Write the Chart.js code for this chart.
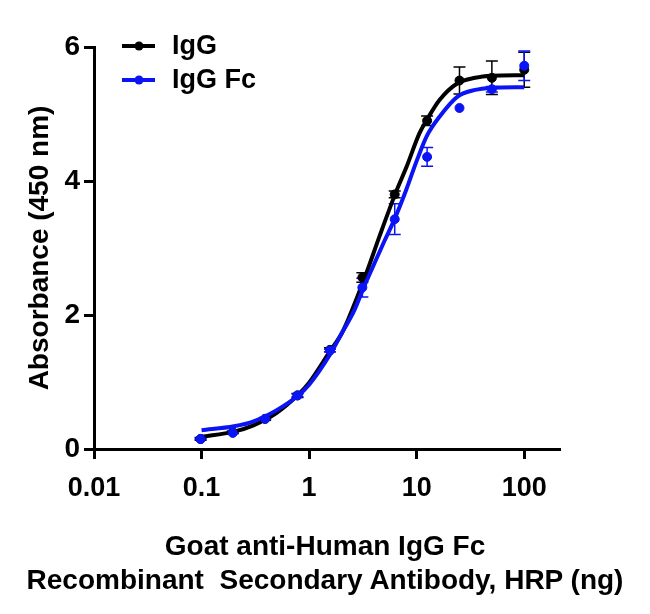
<!DOCTYPE html>
<html lang="en">
<head>
  <meta charset="UTF-8">
  <title>Goat anti-Human IgG Fc ELISA</title>
  <script src="https://cdn.jsdelivr.net/npm/chart.js"></script>
  <style>
    * { margin: 0; padding: 0; box-sizing: border-box; }
    body { background: #fff; width: 650px; height: 614px; overflow: hidden; }
    .wrap { position: relative; width: 650px; height: 614px; }
    .xcaption {
      position: absolute;
      left: 0; top: 529px; width: 650px;
      text-align: center;
      font-family: 'Liberation Sans', Arial, sans-serif;
      font-weight: bold;
      font-size: 28px;
      line-height: 34px;
      color: #000;
      white-space: pre;
    }
  </style>
</head>
<body>
  <div class="wrap">
    <canvas id="elisa" width="650" height="614"></canvas>
    <div class="xcaption">Goat anti-Human IgG Fc
Recombinant  Secondary Antibody, HRP (ng)</div>
  </div>

<script>
  // antibody amount (ng), two-fold dilutions
  const conc = [0.098, 0.195, 0.39, 0.78, 1.5625, 3.125, 6.25, 12.5, 25, 50, 100];

  // IgG (black) means and error bars
  const iggMean = [0.15, 0.25, 0.45, 0.80, 1.48, 2.56, 3.80, 4.90, 5.50, 5.54, 5.66];
  const iggSd   = [0.02, 0.02, 0.02, 0.03, 0.03, 0.07, 0.05, 0.07, 0.20, 0.25, 0.26];

  // IgG Fc (blue) means and error bars
  const fcMean = [0.15, 0.24, 0.45, 0.80, 1.47, 2.41, 3.43, 4.36, 5.09, 5.37, 5.72];
  const fcSd   = [0.01, 0.01, 0.01, 0.02, 0.02, 0.14, 0.23, 0.14, 0.00, 0.04, 0.22];

  // fitted curves
  const iggFitX = [0.1, 0.2, 0.3, 0.5, 0.78, 1, 1.55, 2, 2.3, 3.4, 4.5, 6.4, 8, 10.6, 12.5, 16.3, 24, 35, 50, 100];
  const iggFitY = [0.18, 0.26, 0.35, 0.54, 0.80, 0.99, 1.45, 1.72, 1.93, 2.62, 3.17, 3.83, 4.20, 4.71, 4.92, 5.21, 5.46, 5.54, 5.57, 5.58];
  const fcFitX = [0.1, 0.2, 0.3, 0.5, 0.78, 1, 1.55, 2, 2.65, 3.2, 3.92, 5, 6.3, 8, 10, 12.5, 16.3, 24, 35, 50, 100];
  const fcFitY = [0.28, 0.34, 0.41, 0.58, 0.79, 0.96, 1.40, 1.72, 2.08, 2.40, 2.72, 3.10, 3.45, 3.87, 4.30, 4.68, 4.96, 5.26, 5.36, 5.39, 5.40];

  const xTicks = [0.01, 0.1, 1, 10, 100];
  const yTicks = [0, 2, 4, 6];

  const BLUE = '#0a14f5';
  const BLACK = '#000000';

  Chart.defaults.font.family = "'Liberation Sans', Arial, sans-serif";
  Chart.defaults.font.weight = 'bold';
  Chart.defaults.color = '#000';

  const toPts = (xs, ys) => xs.map((x, i) => ({ x: x, y: ys[i] }));

  const errorBars = {
    id: 'errorBars',
    beforeDatasetsDraw(chart) {
      const { ctx, scales: { x, y } } = chart;
      const sets = [
        { mean: iggMean, sd: iggSd, color: BLACK },
        { mean: fcMean, sd: fcSd, color: BLUE }
      ];
      ctx.save();
      ctx.lineWidth = 1.5;
      sets.forEach(s => {
        ctx.strokeStyle = s.color;
        conc.forEach((c, i) => {
          if (!s.sd[i]) return;
          const px = x.getPixelForValue(c);
          const top = y.getPixelForValue(s.mean[i] + s.sd[i]);
          const bot = y.getPixelForValue(s.mean[i] - s.sd[i]);
          ctx.beginPath();
          ctx.moveTo(px, top); ctx.lineTo(px, bot);
          ctx.moveTo(px - 6, top); ctx.lineTo(px + 6, top);
          ctx.moveTo(px - 6, bot); ctx.lineTo(px + 6, bot);
          ctx.stroke();
        });
      });
      ctx.restore();
    }
  };

  const legendBox = {
    id: 'legendBox',
    afterDraw(chart) {
      const ctx = chart.ctx;
      const rows = [
        { label: 'IgG', color: BLACK, y: 46 },
        { label: 'IgG Fc', color: BLUE, y: 80 }
      ];
      ctx.save();
      rows.forEach(r => {
        ctx.strokeStyle = r.color;
        ctx.fillStyle = r.color;
        ctx.lineWidth = 4;
        ctx.beginPath();
        ctx.moveTo(122, r.y); ctx.lineTo(155, r.y);
        ctx.stroke();
        ctx.beginPath();
        ctx.arc(139, r.y, 4.5, 0, Math.PI * 2);
        ctx.fill();
        ctx.fillStyle = '#000';
        ctx.font = "bold 27px 'Liberation Sans', Arial, sans-serif";
        ctx.textBaseline = 'middle';
        ctx.fillText(r.label, 172, r.y + 1);
      });
      ctx.restore();
    }
  };

  new Chart(document.getElementById('elisa'), {
    type: 'scatter',
    data: {
      datasets: [
        {
          label: 'IgG Fc',
          data: toPts(conc, fcMean),
          backgroundColor: BLUE, borderColor: BLUE,
          pointRadius: 4.5, showLine: false, order: 0
        },
        {
          label: 'IgG Fc fit',
          data: toPts(fcFitX, fcFitY),
          borderColor: BLUE, borderWidth: 4,
          pointRadius: 0, showLine: true, cubicInterpolationMode: 'monotone', order: 1
        },
        {
          label: 'IgG',
          data: toPts(conc, iggMean),
          backgroundColor: BLACK, borderColor: BLACK,
          pointRadius: 4.5, showLine: false, order: 2
        },
        {
          label: 'IgG fit',
          data: toPts(iggFitX, iggFitY),
          borderColor: BLACK, borderWidth: 4,
          pointRadius: 0, showLine: true, cubicInterpolationMode: 'monotone', order: 3
        }
      ]
    },
    options: {
      responsive: false,
      animation: false,
      devicePixelRatio: 1,
      layout: { padding: { top: 47, right: 90, bottom: 0, left: 0 } },
      plugins: {
        legend: { display: false },
        tooltip: { enabled: false }
      },
      scales: {
        x: {
          type: 'logarithmic',
          min: 0.01,
          max: 215,
          afterBuildTicks: s => { s.ticks = xTicks.map(v => ({ value: v })); },
          afterFit: s => { s.height = 165; },
          ticks: {
            autoSkip: false, maxRotation: 0, padding: 13,
            font: { size: 27, weight: 'bold' },
            callback: v => String(v)
          },
          grid: { drawOnChartArea: false, drawTicks: true, tickLength: 10, tickWidth: 3, tickColor: '#000' },
          border: { display: true, color: '#000', width: 3 }
        },
        y: {
          type: 'linear',
          min: 0,
          max: 6,
          afterBuildTicks: s => { s.ticks = yTicks.map(v => ({ value: v })); },
          afterFit: s => { s.width = 94; },
          ticks: { padding: 4, font: { size: 28, weight: 'bold' } },
          grid: { drawOnChartArea: false, drawTicks: true, tickLength: 10, tickWidth: 3, tickColor: '#000' },
          border: { display: true, color: '#000', width: 3 },
          title: {
            display: true,
            text: 'Absorbance (450 nm)',
            font: { size: 28, weight: 'bold' },
            padding: { top: 23, bottom: 0 }
          }
        }
      }
    },
    plugins: [errorBars, legendBox]
  });
</script>
</body>
</html>
